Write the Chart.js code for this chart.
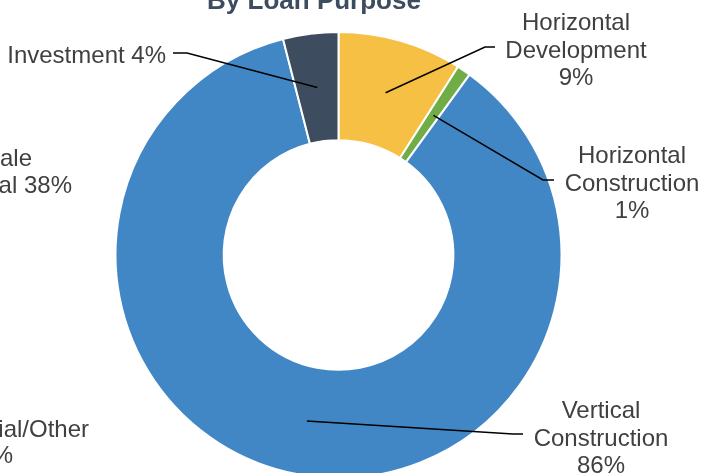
<!DOCTYPE html>
<html>
<head>
<meta charset="utf-8">
<script src="https://cdn.jsdelivr.net/npm/chart.js@4"></script>
<style>
  html, body { margin: 0; padding: 0; background: #fff; overflow: hidden; }
  #wrap { position: absolute; left: 0; top: 0; width: 702px; height: 500px; }
</style>
</head>
<body>
<div id="wrap"><canvas id="purposeChart" width="702" height="500"></canvas></div>
<script>
// data
const purposes = ['Horizontal Development', 'Horizontal Construction', 'Vertical Construction', 'Investment'];
const shares = [9, 1, 86, 4];
const sliceColors = ['#F5C043', '#70AD47', '#4287C5', '#3D4C5F'];

// fragments of the neighbouring chart's labels, cut by the left edge
const strayLabels = ['ale', 'al 38%', 'ial/Other', '%'];

const FONT = '"Liberation Sans", Arial, sans-serif';
const TEXT = '#404040';

// where each callout sits (stacked = word per line + value line)
const callouts = [
    { x: 576, y: 30, stacked: true, elbow: [485, 47], end: [495, 47] },
    { x: 632, y: 163, stacked: true, elbow: [543, 180], end: [554, 180] },
    { x: 601, y: 418, stacked: true, elbow: [513, 434], end: [523, 434] },
    { x: 166, y: 63, stacked: false, elbow: [187, 53], end: [173, 53] }
];
const strayPos = [[32, 166], [72, 193], [89, 437], [13, 463]];

const calloutPlugin = {
    id: 'callouts',
    afterDatasetsDraw(chart) {
        const ctx = chart.ctx;
        const arcs = chart.getDatasetMeta(0).data;
        ctx.save();

        // title, mostly cut off by the top edge
        ctx.fillStyle = '#3D4C5F';
        ctx.font = 'bold 26px ' + FONT;
        ctx.textAlign = 'center';
        ctx.textBaseline = 'alphabetic';
        ctx.fillText('By Loan Purpose', 314, 9);

        ctx.font = '24px ' + FONT;
        arcs.forEach((arc, i) => {
            const c = callouts[i];
            const p = arc.tooltipPosition();
            ctx.strokeStyle = '#000';
            ctx.lineWidth = 1.5;
            ctx.beginPath();
            ctx.moveTo(p.x, p.y);
            ctx.lineTo(c.elbow[0], c.elbow[1]);
            ctx.lineTo(c.end[0], c.end[1]);
            ctx.stroke();

            ctx.fillStyle = TEXT;
            if (c.stacked) {
                const lines = purposes[i].split(' ').concat(shares[i] + '%');
                ctx.textAlign = 'center';
                lines.forEach((t, k) => ctx.fillText(t, c.x, c.y + k * 27.5));
            } else {
                ctx.textAlign = 'right';
                ctx.fillText(purposes[i] + ' ' + shares[i] + '%', c.x, c.y);
            }
        });

        ctx.textAlign = 'right';
        strayLabels.forEach((t, k) => ctx.fillText(t, strayPos[k][0], strayPos[k][1]));
        ctx.restore();
    }
};

const ctx1 = document.getElementById('purposeChart').getContext('2d');
const purposeChart = new Chart(ctx1, {
    type: 'doughnut',
    data: {
        labels: purposes,
        datasets: [{
            data: shares,
            backgroundColor: sliceColors,
            borderColor: '#ffffff',
            borderWidth: 2
        }]
    },
    options: {
        responsive: false,
        animation: false,
        events: [],
        cutout: '51.5%',
        layout: {
            padding: { left: 114, right: 139, top: 31, bottom: 21 }
        },
        plugins: {
            legend: { display: false },
            tooltip: { enabled: false }
        }
    },
    plugins: [calloutPlugin]
});
</script>
</body>
</html>
